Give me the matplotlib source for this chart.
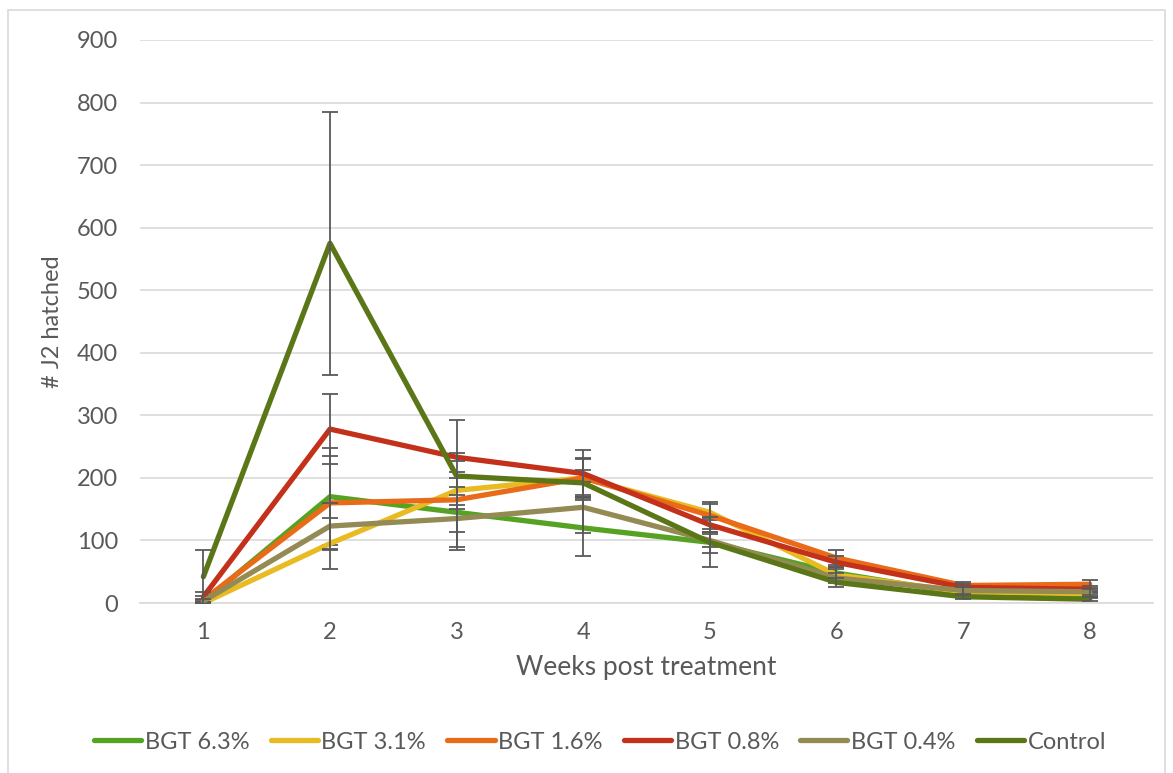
import matplotlib.pyplot as plt
import numpy as np
from matplotlib.patches import Rectangle

plt.rcParams['font.family'] = ['Lato', 'DejaVu Sans']

weeks = [1, 2, 3, 4, 5, 6, 7, 8]
names = ['BGT 6.3%', 'BGT 3.1%', 'BGT 1.6%', 'BGT 0.8%', 'BGT 0.4%', 'Control']
colors = ['#56a223', '#e9bb22', '#e96b1a', '#c3311a', '#948a54', '#5b7617']

# mean J2 hatched per week
bgt_63 = [2, 170, 145, 120, 97, 48, 15, 12]
bgt_31 = [0, 95, 180, 200, 145, 45, 18, 15]
bgt_16 = [5, 160, 165, 200, 140, 72, 28, 30]
bgt_08 = [10, 278, 233, 207, 125, 65, 25, 22]
bgt_04 = [3, 123, 135, 153, 100, 40, 20, 18]
control = [42, 575, 203, 192, 97, 33, 10, 6]

# standard errors
err_63 = [3, 78, 55, 45, 39, 10, 5, 4]
err_31 = [2, 41, 30, 30, 13, 12, 5, 5]
err_16 = [6, 75, 8, 32, 22, 12, 6, 6]
err_08 = [8, 56, 6, 38, 12, 10, 5, 5]
err_04 = [4, 37, 50, 41, 10, 8, 5, 5]
err_ctl = [43, 210, 90, 20, 17, 7, 3, 3]

means = [bgt_63, bgt_31, bgt_16, bgt_08, bgt_04, control]
errs = [err_63, err_31, err_16, err_08, err_04, err_ctl]

fig = plt.figure(figsize=(11.73, 7.73), dpi=100)
ax = fig.add_axes([0.1194, 0.2199, 0.8636, 0.7284])

grey = '#595959'
lines = []
for i in range(len(names)):
    line, = ax.plot(weeks, means[i], color=colors[i], lw=3.8,
                    solid_capstyle='round', zorder=3 + 2 * i, label=names[i])
    ax.errorbar(weeks, means[i], yerr=errs[i], fmt='none', ecolor=grey,
                elinewidth=1.3, capsize=5.5, capthick=1.3, zorder=4 + 2 * i)
    lines.append(line)

ax.set_xlim(0.5, 8.5)
ax.set_ylim(0, 900)
ax.set_yticks(np.arange(0, 901, 100))
ax.set_xticks(weeks)
ax.grid(axis='y', color='#d9d9d9', lw=1.2, zorder=0)
ax.set_axisbelow(True)
for s in ['top', 'right', 'left']:
    ax.spines[s].set_visible(False)
ax.spines['bottom'].set_color('#d9d9d9')
ax.spines['bottom'].set_linewidth(1.2)
ax.tick_params(length=0, labelsize=17, labelcolor=grey)
ax.tick_params(axis='x', pad=14)
ax.tick_params(axis='y', pad=16)

ax.set_xlabel('Weeks post treatment', fontsize=19, color=grey, labelpad=8)
ax.set_ylabel('# J2 hatched', fontsize=17, color=grey, labelpad=10)

fig.legend(lines, names, ncol=6, loc='center', bbox_to_anchor=(0.5115, 0.04),
           frameon=False, fontsize=17, labelcolor=grey, handlelength=2.0,
           handletextpad=0.15, columnspacing=0.9)

fig.patches.append(Rectangle((8 / 1173, -0.01), 1157 / 1173, 1 - 10 / 773 + 0.01,
                             transform=fig.transFigure, fill=False,
                             edgecolor='#d9d9d9', lw=1.2))

plt.savefig('out.png', dpi=100)
